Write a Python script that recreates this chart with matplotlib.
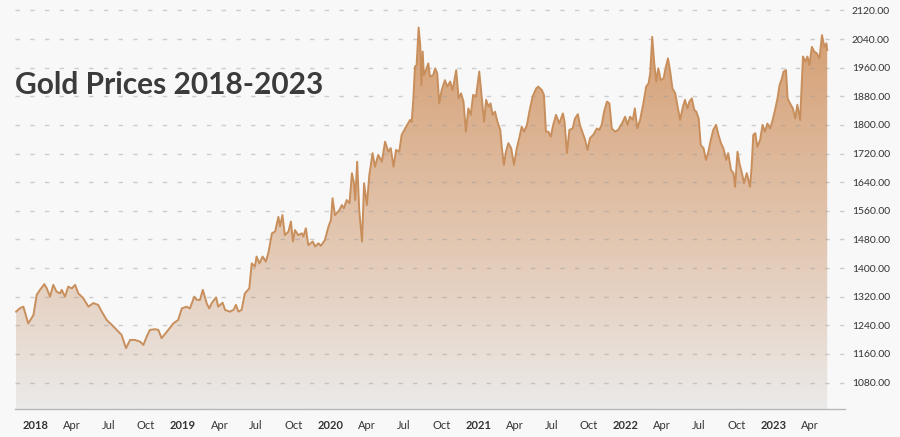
import matplotlib
matplotlib.use('Agg')
import matplotlib.pyplot as plt
import numpy as np
import pandas as pd
from matplotlib.colors import LinearSegmentedColormap

title = 'Gold Prices 2018-2023'

dates = [
    '2017-11-14', '2017-11-24', '2017-12-02', '2017-12-14', '2017-12-27',
    '2018-01-04', '2018-01-12', '2018-01-23', '2018-01-29', '2018-02-06', '2018-02-14', '2018-02-22',
    '2018-03-03', '2018-03-07', '2018-03-15', '2018-03-23', '2018-04-01', '2018-04-09', '2018-04-17',
    '2018-04-29', '2018-05-12', '2018-05-24', '2018-06-05', '2018-06-14', '2018-06-26', '2018-07-09',
    '2018-07-21', '2018-08-02', '2018-08-13', '2018-08-23', '2018-09-04', '2018-09-17', '2018-09-25',
    '2018-10-03', '2018-10-11', '2018-10-24', '2018-11-01', '2018-11-09', '2018-11-22', '2018-12-08',
    '2018-12-20', '2018-12-29',
    '2019-01-10', '2019-01-18', '2019-01-29', '2019-02-04', '2019-02-12', '2019-02-19', '2019-03-01',
    '2019-03-07', '2019-03-13', '2019-03-24', '2019-03-29', '2019-04-09', '2019-04-15', '2019-04-27',
    '2019-05-06', '2019-05-12', '2019-05-18', '2019-05-26', '2019-06-03', '2019-06-14', '2019-06-20',
    '2019-06-28', '2019-07-02', '2019-07-09', '2019-07-17', '2019-07-25', '2019-07-31', '2019-08-09',
    '2019-08-17', '2019-08-25', '2019-08-29', '2019-09-04', '2019-09-10', '2019-09-19', '2019-09-25',
    '2019-09-30', '2019-10-05', '2019-10-13', '2019-10-22', '2019-10-26', '2019-11-01', '2019-11-07',
    '2019-11-18', '2019-11-24', '2019-12-02', '2019-12-08', '2019-12-18', '2019-12-27',
    '2020-01-02', '2020-01-06', '2020-01-12', '2020-01-23', '2020-01-29', '2020-02-03', '2020-02-10',
    '2020-02-17', '2020-02-23', '2020-02-28', '2020-03-02', '2020-03-07', '2020-03-12', '2020-03-19',
    '2020-03-24', '2020-03-31', '2020-04-06', '2020-04-14', '2020-04-20', '2020-04-28', '2020-05-07',
    '2020-05-15', '2020-05-23', '2020-05-29', '2020-06-05', '2020-06-11', '2020-06-19', '2020-06-25',
    '2020-07-06', '2020-07-16', '2020-07-20', '2020-07-24', '2020-07-28', '2020-08-01', '2020-08-06',
    '2020-08-10', '2020-08-13', '2020-08-16', '2020-08-19', '2020-08-24', '2020-08-30', '2020-09-03',
    '2020-09-11', '2020-09-16', '2020-09-21', '2020-09-26', '2020-10-02', '2020-10-10', '2020-10-16',
    '2020-10-23', '2020-10-29', '2020-11-07', '2020-11-13', '2020-11-19', '2020-11-25', '2020-12-01',
    '2020-12-07', '2020-12-13', '2020-12-19', '2020-12-26',
    '2021-01-03', '2021-01-09', '2021-01-15', '2021-01-20', '2021-01-26', '2021-01-31', '2021-02-05',
    '2021-02-11', '2021-02-17', '2021-02-24', '2021-02-28', '2021-03-05', '2021-03-10', '2021-03-16',
    '2021-03-23', '2021-03-30', '2021-04-06', '2021-04-12', '2021-04-18', '2021-04-24', '2021-05-01',
    '2021-05-07', '2021-05-15', '2021-05-24', '2021-05-29', '2021-06-07', '2021-06-12', '2021-06-17',
    '2021-06-23', '2021-06-29', '2021-07-05', '2021-07-12', '2021-07-20', '2021-07-29', '2021-08-02',
    '2021-08-08', '2021-08-14', '2021-08-22', '2021-08-28', '2021-09-04', '2021-09-09', '2021-09-16',
    '2021-09-22', '2021-09-28', '2021-10-04', '2021-10-12', '2021-10-21', '2021-10-27', '2021-11-02',
    '2021-11-08', '2021-11-15', '2021-11-21', '2021-11-27', '2021-12-05', '2021-12-13', '2021-12-22',
    '2021-12-30',
    '2022-01-05', '2022-01-11', '2022-01-18', '2022-01-23', '2022-01-29', '2022-02-05', '2022-02-13',
    '2022-02-20', '2022-02-26', '2022-03-02', '2022-03-07', '2022-03-12', '2022-03-17', '2022-03-22',
    '2022-03-28', '2022-04-04', '2022-04-10', '2022-04-15', '2022-04-20', '2022-04-26', '2022-05-03',
    '2022-05-08', '2022-05-15', '2022-05-22', '2022-05-27', '2022-06-02', '2022-06-07', '2022-06-13',
    '2022-06-19', '2022-06-24', '2022-06-30', '2022-07-05', '2022-07-12', '2022-07-18', '2022-07-24',
    '2022-07-30', '2022-08-05', '2022-08-12', '2022-08-18', '2022-08-24', '2022-08-30', '2022-09-06',
    '2022-09-11', '2022-09-18', '2022-09-24', '2022-09-28', '2022-10-04', '2022-10-09', '2022-10-15',
    '2022-10-20', '2022-10-27', '2022-10-31', '2022-11-04', '2022-11-08', '2022-11-12', '2022-11-17',
    '2022-11-22', '2022-11-29', '2022-12-05', '2022-12-11', '2022-12-17', '2022-12-24', '2022-12-30',
    '2023-01-05', '2023-01-11', '2023-01-16', '2023-01-22', '2023-01-26', '2023-02-01', '2023-02-05',
    '2023-02-11', '2023-02-18', '2023-02-24', '2023-03-01', '2023-03-08', '2023-03-15', '2023-03-21',
    '2023-03-26', '2023-03-31', '2023-04-06', '2023-04-12', '2023-04-18', '2023-04-25', '2023-05-01',
    '2023-05-07', '2023-05-12', '2023-05-14',
]

prices = [
    1278, 1288, 1292, 1245, 1269,
    1325, 1339, 1355, 1343, 1320, 1353, 1334,
    1329, 1339, 1320, 1348, 1343, 1353, 1329,
    1316, 1292, 1302, 1297, 1278, 1255, 1241,
    1227, 1213, 1176, 1199, 1199, 1194, 1185,
    1208, 1227, 1229, 1227, 1204, 1222, 1245,
    1255, 1287,
    1292, 1287, 1320, 1311, 1311, 1339, 1300,
    1287, 1302, 1318, 1292, 1303, 1283, 1278,
    1283, 1297, 1278, 1283, 1329, 1343, 1413,
    1404, 1432, 1413, 1432, 1418, 1441, 1497,
    1502, 1543, 1516, 1548, 1492, 1502, 1530,
    1474, 1506, 1492, 1497, 1488, 1511, 1464,
    1474, 1460, 1469, 1462, 1478, 1516,
    1534, 1595, 1548, 1562, 1576, 1567, 1590,
    1581, 1665, 1637, 1590, 1697, 1562, 1474,
    1637, 1576, 1660, 1721, 1683, 1716, 1697,
    1753, 1725, 1735, 1683, 1730, 1725, 1772,
    1795, 1814, 1809, 1874, 1963, 1967, 2072,
    2023, 1911, 2005, 1939, 1953, 1972, 1935,
    1939, 1958, 1944, 1860, 1897, 1925, 1907,
    1921, 1897, 1953, 1874, 1888, 1865, 1781,
    1846, 1828, 1884, 1879,
    1949, 1879, 1809, 1870, 1851, 1860, 1828,
    1837, 1809, 1786, 1735, 1688, 1725, 1749,
    1735, 1688, 1735, 1763, 1795, 1781, 1800,
    1837, 1879, 1902, 1907, 1897, 1884, 1781,
    1781, 1767, 1800, 1828, 1804, 1832, 1809,
    1721, 1786, 1790, 1818, 1830, 1800, 1777,
    1758, 1730, 1763, 1772, 1790, 1786, 1800,
    1837, 1865, 1860, 1790, 1781, 1786, 1804,
    1823,
    1800, 1823, 1814, 1846, 1790, 1814, 1860,
    1907, 1916, 1944, 2046, 1972, 1921, 1958,
    1925, 1930, 1963, 1986, 1953, 1902, 1888,
    1856, 1814, 1851, 1870, 1846, 1865, 1874,
    1842, 1837, 1818, 1744, 1735, 1702, 1725,
    1758, 1786, 1800, 1772, 1749, 1735, 1702,
    1721, 1674, 1665, 1627, 1725, 1691, 1665,
    1637, 1665, 1646, 1627, 1683, 1772, 1777,
    1739, 1758, 1800, 1781, 1804, 1790, 1814,
    1842, 1874, 1911, 1930, 1949, 1953, 1874,
    1860, 1846, 1818, 1856, 1814, 1991, 1977,
    1991, 1967, 2018, 2005, 2000, 1986, 2051,
    2018, 2028, 2009,
]

y_ticks = [1080, 1160, 1240, 1320, 1400, 1480, 1560, 1640, 1720, 1800, 1880, 1960, 2040, 2120]

x_tick_dates = [
    '2018-01-01', '2018-04-01', '2018-07-01', '2018-10-01',
    '2019-01-01', '2019-04-01', '2019-07-01', '2019-10-01',
    '2020-01-01', '2020-04-01', '2020-07-01', '2020-10-01',
    '2021-01-01', '2021-04-01', '2021-07-01', '2021-10-01',
    '2022-01-01', '2022-04-01', '2022-07-01', '2022-10-01',
    '2023-01-01', '2023-04-01',
]
x_tick_labels = [
    '2018', 'Apr', 'Jul', 'Oct', '2019', 'Apr', 'Jul', 'Oct',
    '2020', 'Apr', 'Jul', 'Oct', '2021', 'Apr', 'Jul', 'Oct',
    '2022', 'Apr', 'Jul', 'Oct', '2023', 'Apr',
]

plt.rcParams['font.family'] = ['Lato', 'DejaVu Sans']

bg = '#f8f8f8'
x = pd.to_datetime(dates)
xmin, xmax = pd.Timestamp('2017-11-11 07:00'), pd.Timestamp('2023-06-27')
ymin, ymax = 1006, 2149

fig = plt.figure(figsize=(9, 4.37), dpi=100, facecolor=bg)
ax = fig.add_axes([15 / 900, 28 / 437, 830 / 900, 409 / 437])
ax.set_facecolor(bg)

# gradient fill under the curve
area = ax.fill_between(x, prices, ymin, facecolor='none', edgecolor='none')
cmap = LinearSegmentedColormap.from_list(
    'gold', [(0, '#ebeae9'), (0.4, '#e3c8b3'), (1, '#d39a6b')])
grad = np.linspace(1, 0, 256).reshape(-1, 1)
x0, x1 = matplotlib.dates.date2num([xmin, xmax])
im = ax.imshow(grad, cmap=cmap, extent=[x0, x1, ymin, ymax],
               aspect='auto', origin='upper', zorder=1)
im.set_clip_path(area.get_paths()[0], transform=ax.transData)

ax.plot(x, prices, color='#c88f5c', lw=1.4, zorder=3)

ax.set_xlim(xmin, xmax)
ax.set_ylim(ymin, ymax)

ax.set_axisbelow(False)
ax.set_yticks(y_ticks)
ax.set_yticklabels([f'{v:.2f}' for v in y_ticks])
ax.yaxis.tick_right()
ax.yaxis.grid(True, color='#9a9a9a', alpha=0.45, lw=1.0, linestyle=(0, (3.2, 7.4)))
ax.tick_params(axis='y', length=0, pad=5, labelsize=7.5, labelcolor='#333333')

ax.set_xticks(pd.to_datetime(x_tick_dates))
ax.set_xticklabels(x_tick_labels)
ax.tick_params(axis='x', length=0, pad=8, labelsize=8, labelcolor='#333333')
for lab in ax.get_xticklabels():
    if lab.get_text().isdigit():
        lab.set_fontweight('bold')

for side in ['top', 'left', 'right']:
    ax.spines[side].set_visible(False)
ax.spines['bottom'].set_color('#b8b8b8')
ax.spines['bottom'].set_linewidth(1.0)

fig.text(15 / 900, 1 - 93.5 / 437, title, fontsize=21.5, fontweight='bold',
         color='#3b3b3b', ha='left', va='baseline')

fig.savefig('out.png', dpi=100, facecolor=bg)
